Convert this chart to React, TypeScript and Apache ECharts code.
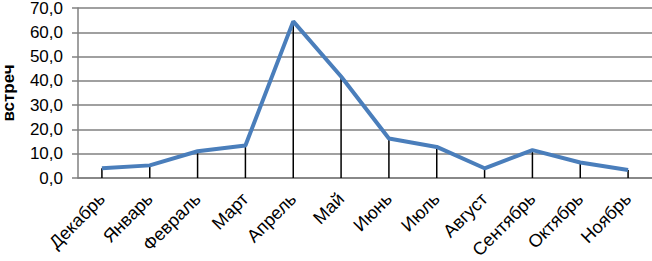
import React, { useEffect, useRef } from "react";
import * as echarts from "echarts";

const categories = ["Декабрь", "Январь", "Февраль", "Март", "Апрель", "Май", "Июнь", "Июль", "Август", "Сентябрь", "Октябрь", "Ноябрь"];
const values = [4.0, 5.2, 11.0, 13.4, 64.5, 41.8, 16.3, 12.8, 4.0, 11.5, 6.4, 3.3];
const yName = "встреч";

export default function App() {
  const ref = useRef<HTMLDivElement>(null);
  useEffect(() => {
    const chart = echarts.init(ref.current!, undefined, { renderer: "svg" });
    const font = "'Liberation Sans', Arial, sans-serif";
    chart.setOption({
      animation: false,
      grid: { left: 78, right: 0, top: 8, bottom: 83, containLabel: false, outerBoundsMode: "none" },
      xAxis: {
        type: "category",
        data: categories,
        boundaryGap: true,
        axisLine: { lineStyle: { color: "#808080", width: 1.5 } },
        axisTick: { show: false },
        axisLabel: { rotate: 45, fontSize: 18, color: "#000", fontFamily: font, margin: 18, interval: 0 },
      },
      yAxis: {
        type: "value",
        min: 0,
        max: 70,
        interval: 10,
        name: yName,
        nameLocation: "middle",
        nameGap: 61,
        nameTextStyle: { fontSize: 17, fontWeight: "bold", color: "#000", fontFamily: font },
        axisLine: { show: true, lineStyle: { color: "#808080", width: 1.5 } },
        axisTick: { show: true, length: 6, lineStyle: { color: "#808080", width: 1.5 } },
        splitLine: { lineStyle: { color: "#808080", width: 1.5 } },
        axisLabel: {
          fontSize: 17,
          lineHeight: 15,
          color: "#000",
          fontFamily: font,
          margin: 15,
          formatter: (v: number) => v.toFixed(1).replace(".", ","),
        },
      },
      series: [
        {
          type: "bar",
          data: values,
          barWidth: 1.5,
          itemStyle: { color: "#000" },
          z: 1,
        },
        {
          type: "line",
          data: values,
          symbol: "none",
          lineStyle: { color: "#4a7ebb", width: 4 },
          z: 3,
        },
      ],
    });
    return () => chart.dispose();
  }, []);
  return <div ref={ref} style={{ position: "fixed", left: 0, top: 0, width: 652, height: 261, background: "#fff" }} />;
}
